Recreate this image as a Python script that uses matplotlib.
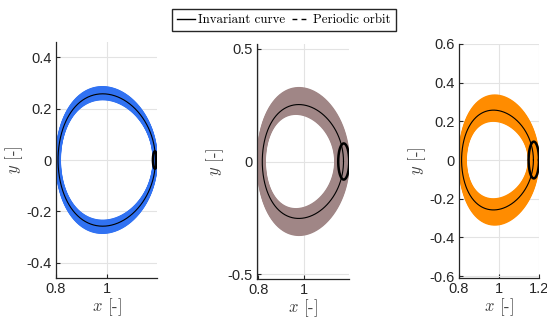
import numpy as np
import matplotlib.pyplot as plt
from matplotlib.lines import Line2D

plt.rcParams['font.family'] = ['Liberation Sans', 'DejaVu Sans']
plt.rcParams['mathtext.fontset'] = 'cm'

# invariant curve: left x, right x, y semi-axis
curve_left = [0.808, 0.818, 0.813]
curve_right = [1.190, 1.172, 1.172]
curve_b = [0.258, 0.252, 0.258]
# sideways lean of the top/bottom points
lean = [0.016, 0.018, 0.020]

# torus band: outer and inner boundary rings
outer_left = [0.800, 0.796, 0.800]
outer_right = [1.196, 1.196, 1.198]
outer_b = [0.285, 0.326, 0.335]
inner_left = [0.816, 0.830, 0.835]
inner_right = [1.182, 1.135, 1.148]
inner_b = [0.236, 0.210, 0.202]
band_colors = ['#3172f2', '#a08686', '#ff8c00']

# periodic orbit: centre x, half width, half height
po_cx = [1.188, 1.173, 1.174]
po_ax = [0.008, 0.024, 0.026]
po_by = [0.034, 0.080, 0.095]

xlims = [(0.8, 1.196), (0.795, 1.196), (0.8, 1.2)]
ylims = [(-0.46, 0.46), (-0.52, 0.52), (-0.61, 0.60)]
yticks = [[-0.4, -0.2, 0, 0.2, 0.4], [-0.5, 0, 0.5], [-0.6, -0.4, -0.2, 0, 0.2, 0.4, 0.6]]
yticklabels = [['-0.4', '-0.2', '0', '0.2', '0.4'], ['-0.5', '0', '0.5'],
               ['-0.6', '-0.4', '-0.2', '0', '0.2', '0.4', '0.6']]
xticks = [[0.8, 1.0], [0.8, 1.0], [0.8, 1.0, 1.2]]
xticklabels = [['0.8', '1'], ['0.8', '1'], ['0.8', '1', '1.2']]

# axes boxes in pixels (left, right, bottom, top) on a 547x323 canvas
boxes = [(56, 157, 278, 42), (257, 349, 279, 44), (459, 539, 278, 44)]

W, H = 547, 323
fig = plt.figure(figsize=(W / 100, H / 100), dpi=100)

t = np.linspace(0, 2 * np.pi, 500)


def ring(left, right, b, lean_x):
    cx = 0.5 * (left + right)
    a = 0.5 * (right - left)
    return cx + a * np.cos(t) - lean_x * np.sin(t) ** 2, b * np.sin(t)


for i in range(3):
    l, r, bt, tp = boxes[i]
    ax = fig.add_axes([l / W, 1 - bt / H, (r - l) / W, (bt - tp) / H])

    # torus drawn as a stack of thin rings between the inner and outer boundary
    for s in np.linspace(0, 1, 40):
        x, y = ring(inner_left[i] + s * (outer_left[i] - inner_left[i]),
                    inner_right[i] + s * (outer_right[i] - inner_right[i]),
                    inner_b[i] + s * (outer_b[i] - inner_b[i]), lean[i])
        ax.plot(x, y, color=band_colors[i], lw=1.3, zorder=2)

    x, y = ring(curve_left[i], curve_right[i], curve_b[i], lean[i])
    ax.plot(x, y, color='black', lw=0.8, zorder=3)

    ax.plot(po_cx[i] + po_ax[i] * np.cos(t), po_by[i] * np.sin(t),
            color='black', lw=1.8, zorder=4)

    ax.set_xlim(*xlims[i])
    ax.set_ylim(*ylims[i])
    ax.set_xticks(xticks[i])
    ax.set_xticklabels(xticklabels[i])
    ax.set_yticks(yticks[i])
    ax.set_yticklabels(yticklabels[i])
    ax.grid(True, color='#e3e3e3', lw=0.8, zorder=0)
    ax.set_axisbelow(True)
    for side in ['top', 'right']:
        ax.spines[side].set_visible(False)
    for side in ['left', 'bottom']:
        ax.spines[side].set_color('#262626')
        ax.spines[side].set_linewidth(0.9)
    ax.tick_params(direction='in', length=3, width=0.8, colors='#262626',
                   labelsize=10.5, pad=3)
    ax.set_xlabel(r'$x$ [-]', fontsize=12, color='#404040', family='cmr10', labelpad=0)
    ax.set_ylabel(r'$y$ [-]', fontsize=12, color='#404040', family='cmr10', labelpad=1)

handles = [Line2D([], [], color='black', lw=1.0),
           Line2D([], [], color='black', lw=1.0, ls=(0, (3.5, 3)))]
fig.legend(handles, ['Invariant curve', 'Periodic orbit'], loc='center',
           bbox_to_anchor=(284 / W, 1 - 20 / H), ncol=2, frameon=True, fancybox=False,
           edgecolor='#262626', framealpha=1, handlelength=1.4, handletextpad=0.25,
           columnspacing=0.5, borderpad=0.4, borderaxespad=0,
           prop={'family': 'cmr10', 'size': 9.3})

fig.savefig('out.png', dpi=100)
